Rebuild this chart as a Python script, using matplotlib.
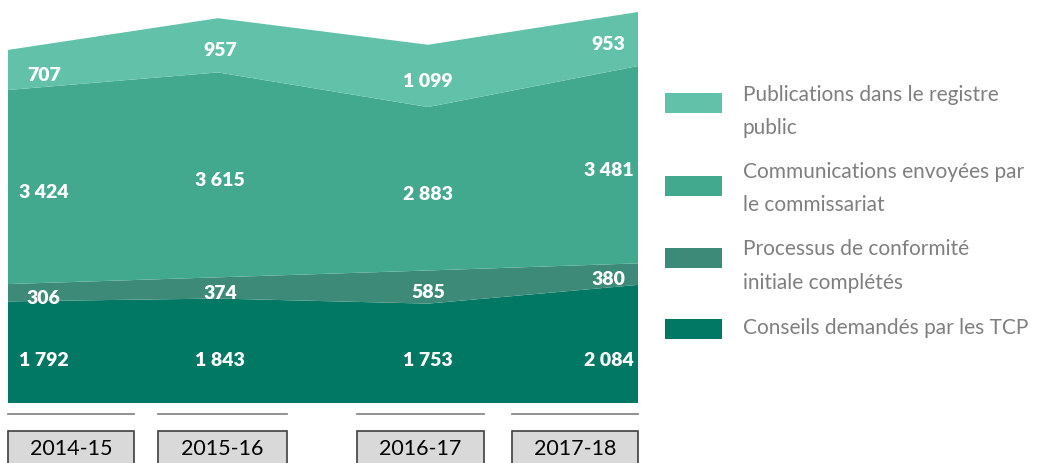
import matplotlib
matplotlib.use("Agg")
import matplotlib.pyplot as plt
from matplotlib.patches import Rectangle
import numpy as np

years = ["2014-15", "2015-16", "2016-17", "2017-18"]
conseils = [1792, 1843, 1753, 2084]
processus = [306, 374, 585, 380]
communications = [3424, 3615, 2883, 3481]
publications = [707, 957, 1099, 953]

series_names = [
    "Conseils demandés par les TCP",
    "Processus de conformité\ninitiale complétés",
    "Communications envoyées par\nle commissariat",
    "Publications dans le registre\npublic",
]
colors = ["#007864", "#3C8A77", "#43A98E", "#62C2A9"]

W, H = 1044, 464
fig = plt.figure(figsize=(W / 100, H / 100), dpi=100)
ax = fig.add_axes([8 / W, 1 - 404 / H, 630 / W, (404 - 13) / H])

x = np.arange(len(years))
data = [conseils, processus, communications, publications]
stacks = ax.stackplot(x, *data, colors=colors, linewidth=0)
totals = np.sum(data, axis=0)
ax.set_xlim(0, 3)
ax.set_ylim(0, totals.max())
ax.axis("off")

def fmt(v):
    return f"{v:,}".replace(",", " ")

label_x = [0.17, 1.01, 2.0, 2.86]
bottoms = np.zeros(len(years))
for i, vals in enumerate(data):
    vals = np.array(vals)
    for j in range(len(years)):
        if i == 0:
            yl = 760
        else:
            yl = bottoms[j] + vals[j] / 2 - 80
        ax.text(label_x[j], yl, fmt(vals[j]), ha="center", va="center",
                color="white", fontsize=14, fontweight="heavy", family="Lato")
    bottoms += vals

# year boxes below
box_ranges = [(8, 134), (158, 287), (357, 484), (512, 638)]
for (x0, x1), yr in zip(box_ranges, years):
    fig.add_artist(plt.Line2D([x0 / W, x1 / W], [1 - 415 / H, 1 - 415 / H],
                              color="#7F7F7F", lw=1.2, transform=fig.transFigure))
    fig.add_artist(Rectangle((x0 / W, 1 - 470 / H), (x1 - x0) / W, 38 / H,
                             facecolor="#D9D9D9", edgecolor="#404040", lw=1.2,
                             transform=fig.transFigure))
    fig.text((x0 + x1) / 2 / W, 1 - 449 / H, yr, ha="center", va="center",
             fontsize=15.5, color="black", family="Lato")

# legend
leg_y = [330, 259, 187, 104]
text_y = [328, 266, 188.5, 111.5]
for name, c, yy, ty in zip(series_names, colors, leg_y, text_y):
    fig.add_artist(Rectangle((665 / W, 1 - (yy + 10) / H), 57 / W, 20 / H,
                             facecolor=c, edgecolor="none", transform=fig.transFigure))
    fig.text(743 / W, 1 - ty / H, name, ha="left", va="center",
             fontsize=15, color="#7F7F7F", family="Lato", linespacing=1.85)

fig.savefig("out.png", dpi=100)
